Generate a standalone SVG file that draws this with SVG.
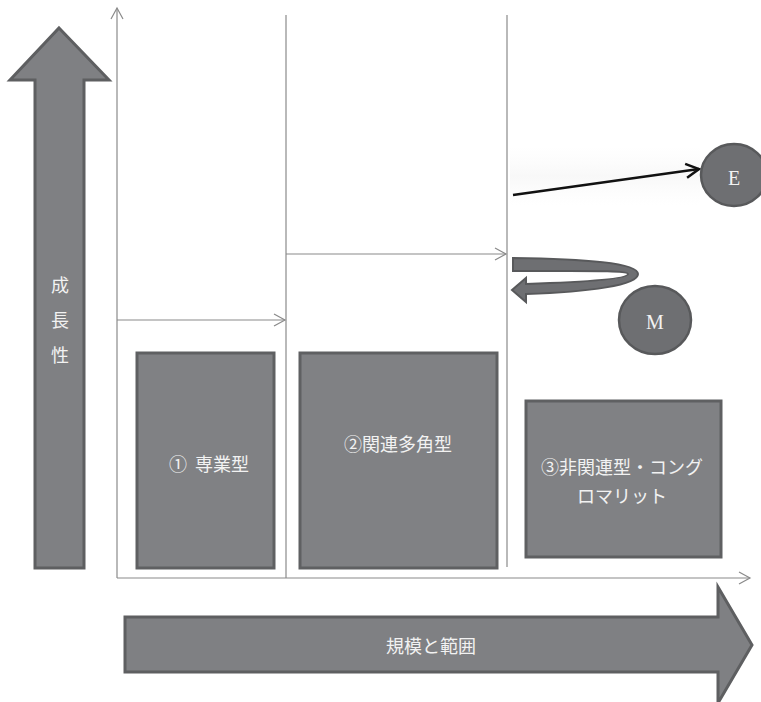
<svg xmlns="http://www.w3.org/2000/svg" width="761" height="702" viewBox="0 0 761 702">
<style>
.big{fill:#7f8083;stroke:#5e5f61;stroke-width:3;stroke-linejoin:miter}
.box{fill:#808184;stroke:#5f6062;stroke-width:3}
.ax{stroke:#8a8a8a;stroke-width:1.2;fill:none}
.lbl{font-family:"Noto Sans CJK JP","Noto Sans CJK SC",sans-serif;fill:#f2f2f2;font-size:18px;text-anchor:middle;dominant-baseline:central}
.ser{font-family:"Liberation Serif",serif;fill:#f2f2f2;font-size:20px;text-anchor:middle;dominant-baseline:central}
</style>
<defs>
<marker id="op" markerWidth="14" markerHeight="14" refX="12" refY="7" orient="auto" markerUnits="userSpaceOnUse">
<path d="M1,1 L12,7 L1,13" fill="none" stroke="#8a8a8a" stroke-width="1.2"/>
</marker>
<marker id="blk" markerWidth="18" markerHeight="18" refX="15" refY="9" orient="auto" markerUnits="userSpaceOnUse">
<path d="M2,2 L15,9 L2,16" fill="none" stroke="#111" stroke-width="2.5"/>
</marker>
<linearGradient id="fade" x1="0" y1="0" x2="0" y2="1">
<stop offset="0" stop-color="#fbfbfb" stop-opacity="0"/>
<stop offset="0.5" stop-color="#f8f8f8"/>
<stop offset="1" stop-color="#fbfbfb" stop-opacity="0"/>
</linearGradient>
</defs>
<rect width="761" height="702" fill="#fff"/>
<g id="growth-arrow">
<path class="big" d="M59,28 L109,80 L84,80 L84,568 L35,568 L35,80 L10,80 Z"/>
<text class="lbl" x="60" y="284" font-size="16">成</text>
<text class="lbl" x="60" y="319" font-size="16">長</text>
<text class="lbl" x="60" y="354" font-size="16">性</text>
</g>
<g id="scale-arrow">
<path class="big" d="M125,617 L718,617 L718,587 L752,645 L718,703 L718,672 L125,672 Z"/>
<text class="lbl" x="431" y="645" font-size="17">規模と範囲</text>
</g>
<g id="connectors">
<line class="ax" x1="117" y1="578" x2="117" y2="8" marker-end="url(#op)"/>
<line class="ax" x1="117" y1="578" x2="750" y2="578" marker-end="url(#op)"/>
<line class="ax" x1="286" y1="15" x2="286" y2="578"/>
<line class="ax" x1="507" y1="15" x2="507" y2="567"/>
<line class="ax" x1="117" y1="320" x2="285" y2="320" marker-end="url(#op)"/>
<line class="ax" x1="286" y1="254" x2="506" y2="254" marker-end="url(#op)"/>
<rect x="510" y="146" width="190" height="60" fill="url(#fade)"/>
<line x1="513" y1="195" x2="699" y2="169" stroke="#111" stroke-width="2.5" marker-end="url(#blk)"/>
<path d="M513,258 C585,259 638,263 638,274 C638,285 590,292 526,294 L526,302 L512,290 L526,278 L526,284 C585,282 628,279 628,274 C628,270 585,271 513,271 Z" fill="#6e6f72" stroke="#58595b" stroke-width="2"/>
</g>
<g id="box1">
<rect class="box" x="137" y="353" width="137" height="215"/>
<text class="lbl" x="209" y="463" xml:space="preserve">①  専業型</text>
</g>
<g id="box2">
<rect class="box" x="300" y="353" width="197" height="215"/>
<text class="lbl" x="398" y="443">②関連多角型</text>
</g>
<g id="box3">
<rect class="box" x="526" y="401" width="195" height="156"/>
<text class="lbl" x="622" y="466">③非関連型・コング</text>
<text class="lbl" x="622" y="495">ロマリット</text>
</g>
<g id="E">
<ellipse cx="734" cy="175" rx="33" ry="31" fill="#6e6f72" stroke="#58595b" stroke-width="2.5"/>
<text class="ser" x="734" y="178">E</text>
</g>
<g id="M">
<ellipse cx="655" cy="320" rx="36" ry="34" fill="#6e6f72" stroke="#58595b" stroke-width="2.5"/>
<text class="ser" x="655" y="322">M</text>
</g>
</svg>
